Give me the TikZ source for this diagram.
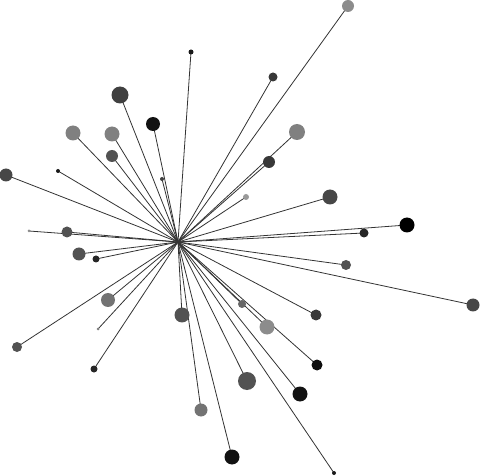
\documentclass[tikz,border=0pt]{standalone}
\usepackage{tikz}
\usepackage{xcolor}

\begin{document}
\begin{tikzpicture}[x=1pt, y=-1pt, line width=0.8pt]

\useasboundingbox (0,0) rectangle (480,476);

\coordinate (o) at (178, 242);

\coordinate (a) at (191, 52);
\coordinate (b) at (120, 95);
\coordinate (c) at (153, 124);
\coordinate (d) at (73, 133);
\coordinate (e) at (112, 134);
\coordinate (f) at (112, 156);
\coordinate (g) at (162, 179);
\coordinate (h) at (58, 171);
\coordinate (i) at (6, 175);
\coordinate (j) at (29, 231);
\coordinate (k) at (67, 232);
\coordinate (l) at (348, 6);
\coordinate (m) at (273, 77);
\coordinate (n) at (297, 132);
\coordinate (p) at (269, 162);
\coordinate (q) at (246, 197);
\coordinate (r) at (330, 197);
\coordinate (s) at (407, 225);
\coordinate (t) at (364, 233);
\coordinate (u) at (79, 254);
\coordinate (v) at (96, 259);
\coordinate (w) at (108, 300);
\coordinate (x) at (98, 329);
\coordinate (y) at (17, 347);
\coordinate (z) at (94, 369);
\coordinate (aa) at (182, 315);
\coordinate (ab) at (201, 410);
\coordinate (ac) at (232, 457);
\coordinate (ad) at (346, 265);
\coordinate (ae) at (473, 305);
\coordinate (af) at (242, 304);
\coordinate (ag) at (316, 315);
\coordinate (ah) at (267, 327);
\coordinate (ai) at (317, 365);
\coordinate (aj) at (247, 381);
\coordinate (ak) at (300, 394);
\coordinate (al) at (334, 473);



\draw [black!80] (o) -- (a);
\draw [black!80] (o) -- (b);
\draw [black!80] (o) -- (c);
\draw [black!80] (o) -- (d);
\draw [black!80] (o) -- (e);
\draw [black!80] (o) -- (f);
\draw [black!80] (o) -- (g);
\draw [black!80] (o) -- (h);
\draw [black!80] (o) -- (i);
\draw [black!80] (o) -- (j);
\draw [black!80] (o) -- (k);
\draw [black!80] (o) -- (l);
\draw [black!80] (o) -- (m);
\draw [black!80] (o) -- (n);
\draw [black!80] (o) -- (p);
\draw [black!80] (o) -- (q);
\draw [black!80] (o) -- (r);
\draw [black!80] (o) -- (s);
\draw [black!80] (o) -- (t);
\draw [black!80] (o) -- (u);
\draw [black!80] (o) -- (v);
\draw [black!80] (o) -- (w);
\draw [black!80] (o) -- (x);
\draw [black!80] (o) -- (y);
\draw [black!80] (o) -- (z);
\draw [black!80] (o) -- (aa);
\draw [black!80] (o) -- (ab);
\draw [black!80] (o) -- (ac);
\draw [black!80] (o) -- (ad);
\draw [black!80] (o) -- (ae);
\draw [black!80] (o) -- (af);
\draw [black!80] (o) -- (ag);
\draw [black!80] (o) -- (ah);
\draw [black!80] (o) -- (ai);
\draw [black!80] (o) -- (aj);
\draw [black!80] (o) -- (ak);
\draw [black!80] (o) -- (al);



\fill [black!90] (a) circle [radius=2.5];
\fill [black!75] (b) circle [radius=8.5];
\fill [black!93] (c) circle [radius=7];
\fill [black!50] (d) circle [radius=7.5];
\fill [black!50] (e) circle [radius=7.5];
\fill [black!68] (f) circle [radius=6];
\fill [black!75] (g) circle [radius=2];
\fill [black!90] (h) circle [radius=2];
\fill [black!72] (i) circle [radius=6.5];
\fill [black!45] (j) circle [radius=1.5];
\fill [black!68] (k) circle [radius=5.5];
\fill [black!45] (l) circle [radius=6];
\fill [black!78] (m) circle [radius=4.5];
\fill [black!50] (n) circle [radius=8];
\fill [black!78] (p) circle [radius=6];
\fill [black!40] (q) circle [radius=3];
\fill [black!72] (r) circle [radius=7.5];
\fill [black] (s) circle [radius=7.5];
\fill [black!85] (t) circle [radius=4.5];
\fill [black!68] (u) circle [radius=6.5];
\fill [black!85] (v) circle [radius=3.5];
\fill [black!55] (w) circle [radius=7];
\fill [black!50] (x) circle [radius=1.5];
\fill [black!68] (y) circle [radius=5];
\fill [black!85] (z) circle [radius=3.5];
\fill [black!68] (aa) circle [radius=7.5];
\fill [black!55] (ab) circle [radius=6.5];
\fill [black!93] (ac) circle [radius=7.5];
\fill [black!68] (ad) circle [radius=5];
\fill [black!72] (ae) circle [radius=6.5];
\fill [black!60] (af) circle [radius=4];
\fill [black!78] (ag) circle [radius=5.5];
\fill [black!45] (ah) circle [radius=7.5];
\fill [black!95] (ai) circle [radius=5.5];
\fill [black!68] (aj) circle [radius=9];
\fill [black!93] (ak) circle [radius=7.5];
\fill [black!90] (al) circle [radius=2];

\end{tikzpicture}
\end{document}
